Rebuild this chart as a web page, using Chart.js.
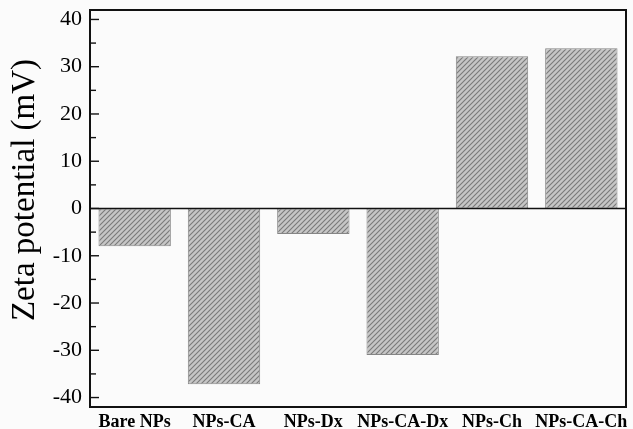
<!DOCTYPE html>
<html>
<head>
<meta charset="utf-8">
<script src="https://cdn.jsdelivr.net/npm/chart.js@4"></script>
<style>
  body { margin: 0; background: #fbfbfb; }
  #grafico { display: block; }
</style>
</head>
<body>
<canvas id="grafico" width="633" height="429"></canvas>
<script>
const amostras = ['Bare NPs', 'NPs-CA', 'NPs-Dx', 'NPs-CA-Dx', 'NPs-Ch', 'NPs-CA-Ch'];
const potencialZeta = [-8.0, -37.2, -5.4, -31.0, 32.2, 33.9];
const ticksY = [-40, -30, -20, -10, 0, 10, 20, 30, 40];
const tituloY = 'Zeta potential (mV)';

// hachura diagonal das barras
function criaHachura() {
    const n = 5;
    const c = document.createElement('canvas');
    c.width = n;
    c.height = n;
    const ctx = c.getContext('2d');
    ctx.fillStyle = '#c6c6c6';
    ctx.fillRect(0, 0, n, n);
    ctx.strokeStyle = '#7a7a7a';
    ctx.lineWidth = 1.1;
    ctx.beginPath();
    ctx.moveTo(0, n); ctx.lineTo(n, 0);
    ctx.moveTo(-1, 1); ctx.lineTo(1, -1);
    ctx.moveTo(n - 1, n + 1); ctx.lineTo(n + 1, n - 1);
    ctx.stroke();
    return ctx.createPattern(c, 'repeat');
}

const moldura = {
    id: 'moldura',
    afterDatasetsDraw(chart) {
        const { ctx, chartArea: a, scales: { y } } = chart;
        ctx.save();
        ctx.strokeStyle = '#111';
        // linha do zero
        ctx.lineWidth = 1.6;
        const y0 = y.getPixelForValue(0);
        ctx.beginPath();
        ctx.moveTo(a.left, y0);
        ctx.lineTo(a.right, y0);
        ctx.stroke();
        // ticks para dentro
        ctx.lineWidth = 1.4;
        for (let v = -40; v <= 40; v += 5) {
            const py = y.getPixelForValue(v);
            const len = v % 10 === 0 ? 9 : 6;
            ctx.beginPath();
            ctx.moveTo(a.left, py);
            ctx.lineTo(a.left + len, py);
            ctx.stroke();
        }
        ctx.lineWidth = 2;
        ctx.strokeRect(a.left, a.top, a.right - a.left, a.bottom - a.top);

        // titulo do eixo y
        ctx.translate(25, 190);
        ctx.rotate(-Math.PI / 2);
        ctx.fillStyle = '#000';
        ctx.font = '33px "Liberation Serif"';
        ctx.textAlign = 'center';
        ctx.textBaseline = 'middle';
        ctx.fillText(tituloY, 0, 0);
        ctx.restore();
    }
};

const grafico = new Chart(document.getElementById('grafico'), {
    type: 'bar',
    data: {
        labels: amostras,
        datasets: [{
            data: potencialZeta,
            backgroundColor: criaHachura(),
            borderColor: '#858585',
            borderWidth: 1,
            borderSkipped: false,
            barPercentage: 0.81,
            categoryPercentage: 1
        }]
    },
    options: {
        responsive: false,
        animation: false,
        layout: { padding: { top: 10, right: 7, left: 0, bottom: 0 } },
        plugins: { legend: { display: false }, tooltip: { enabled: false } },
        scales: {
            x: {
                grid: { display: false, drawTicks: false },
                border: { display: false },
                ticks: {
                    color: '#000',
                    padding: 5,
                    autoSkip: false,
                    maxRotation: 0,
                    font: { family: 'Liberation Serif', size: 18, weight: 'bold' }
                },
                afterFit(s) { s.height = 22; s.paddingLeft = 0; s.paddingRight = 0; }
            },
            y: {
                min: -42,
                max: 42,
                afterBuildTicks(s) { s.ticks = ticksY.map(v => ({ value: v })); },
                grid: { display: false, drawTicks: false },
                border: { display: false },
                ticks: {
                    color: '#000',
                    padding: 8,
                    font: { family: 'Liberation Serif', size: 22 }
                },
                afterFit(s) { s.width = 90; s.paddingTop = 0; s.paddingBottom = 0; }
            }
        }
    },
    plugins: [moldura]
});
</script>
</body>
</html>
